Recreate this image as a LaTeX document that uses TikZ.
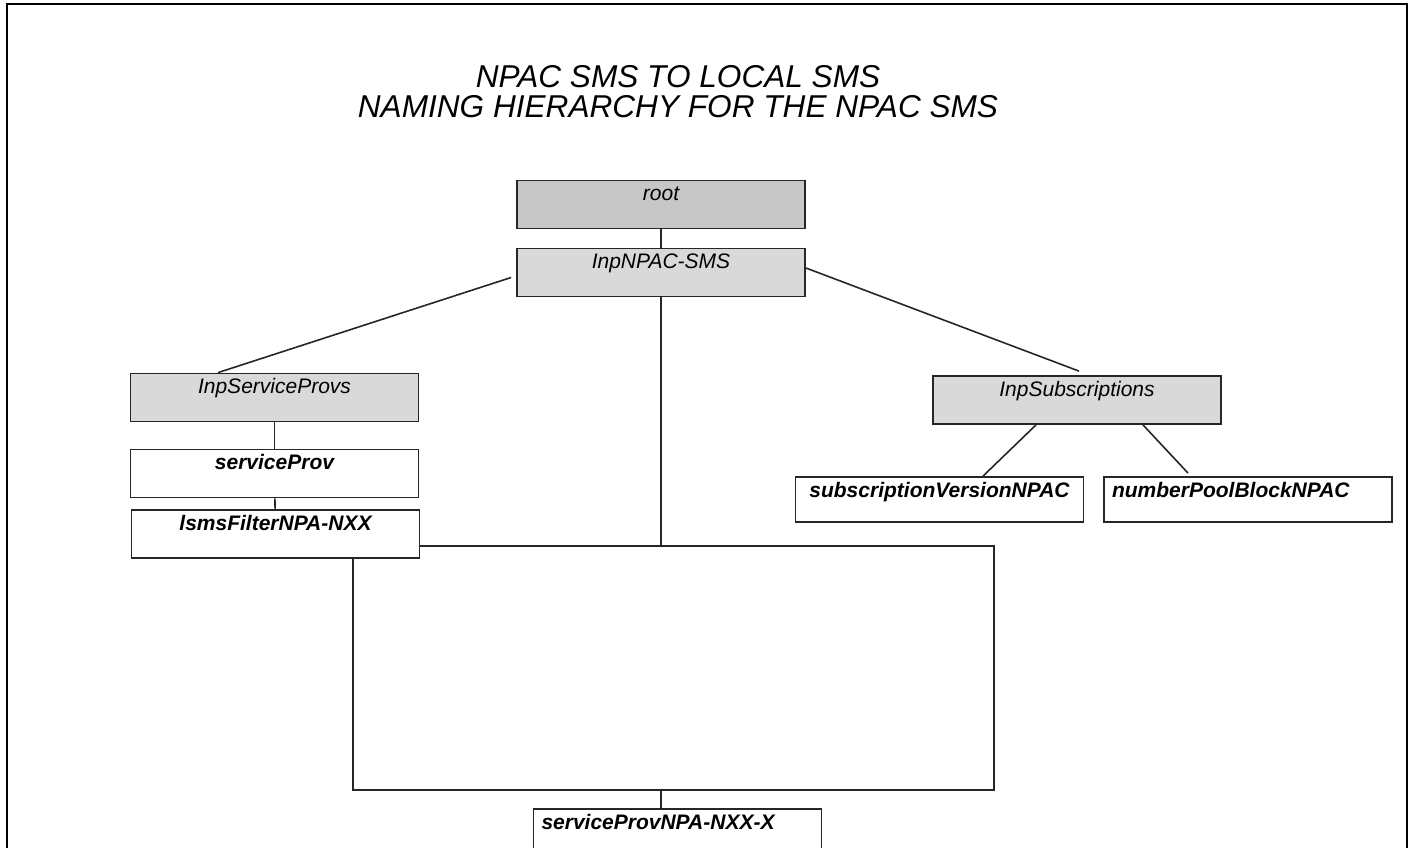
\documentclass[tikz,border=0pt]{standalone}
\usepackage{fontspec}
\setmainfont{Liberation Sans}

\begin{document}
\begin{tikzpicture}[x=0.5pt,y=-0.5pt]
\tikzstyle{every node}=[font=\fontsize{10.5pt}{12pt}\selectfont\itshape]
\tikzstyle{objbox}=[draw=black!85, line width=0.9pt, fill=white, minimum width=144pt, inner xsep=4pt, inner ysep=0pt, text height=10pt, text depth=14pt]
\tikzstyle{container}=[objbox, fill=black!15]
\tikzstyle{leaf}=[objbox, font=\fontsize{10.5pt}{12pt}\selectfont\bfseries\itshape]
\tikzstyle{leftleaf}=[leaf, text width=136pt, align=left]
\tikzstyle{edgeline}=[line width=0.8pt, black!85]
\tikzstyle{heading}=[font=\fontsize{15.8pt}{15pt}\selectfont\itshape, anchor=base]

\clip (0,0) rectangle (1413,847);
% frame
\draw[line width=1.2pt] (7,900) -- (7,4) -- (1407,4) -- (1407,900);

\node[heading] (title1) at (678,87) {NPAC SMS TO LOCAL SMS};
\node[heading] (title2) at (678,117) {NAMING HIERARCHY FOR THE NPAC SMS};

\node[container, fill=black!22] (root) at (661,204.5) {root};
\node[container] (npacsms) at (661,272.5) {InpNPAC-SMS};
\node[container] (svcprovs) at (274.5,397.5) {InpServiceProvs};
\node[leaf] (svcprov) at (274.5,473.5) {serviceProv};
\node[leaf] (lsmsfilter) at (275.5,534) {lsmsFilterNPA-NXX};
\node[container] (subscriptions) at (1077,400) {InpSubscriptions};
\node[leaf, text depth=12.5pt] (subversion) at (939.5,499.5) {subscriptionVersionNPAC};
\node[leftleaf, text depth=12.5pt] (poolblock) at (1248,499.5) {numberPoolBlockNPAC};
\node[leftleaf] (npanxxx) at (677.5,833) {serviceProvNPA-NXX-X};

\coordinate (busNE) at (994,546);
\coordinate (busSW) at (353,790);

\draw[edgeline] (root) -- (npacsms);
\draw[edgeline] ([shift={(-5,5)}]npacsms.west) -- ([shift={(-56.5,0)}]svcprovs.north);
\draw[edgeline] ([shift={(0,-4.5)}]npacsms.east) -- ([shift={(2,-4)}]subscriptions.north);
\draw[edgeline] (svcprovs) -- (svcprov);
\draw[edgeline] (svcprov) -- (lsmsfilter);
\draw[edgeline] ([shift={(-41,0)}]subscriptions.south) -- ([shift={(43.5,0)}]subversion.north);
\draw[edgeline] ([shift={(66,0)}]subscriptions.south) -- ([shift={(-60,-3)}]poolblock.north);
\draw[edgeline] (npacsms) -- (npacsms |- busNE);
\draw[edgeline] (lsmsfilter.east |- busNE) -- (busNE) |- (busSW) -- (busSW |- lsmsfilter.south);
\draw[edgeline] (npacsms |- busSW) -- (npacsms |- npanxxx.north);

\end{tikzpicture}
\end{document}
